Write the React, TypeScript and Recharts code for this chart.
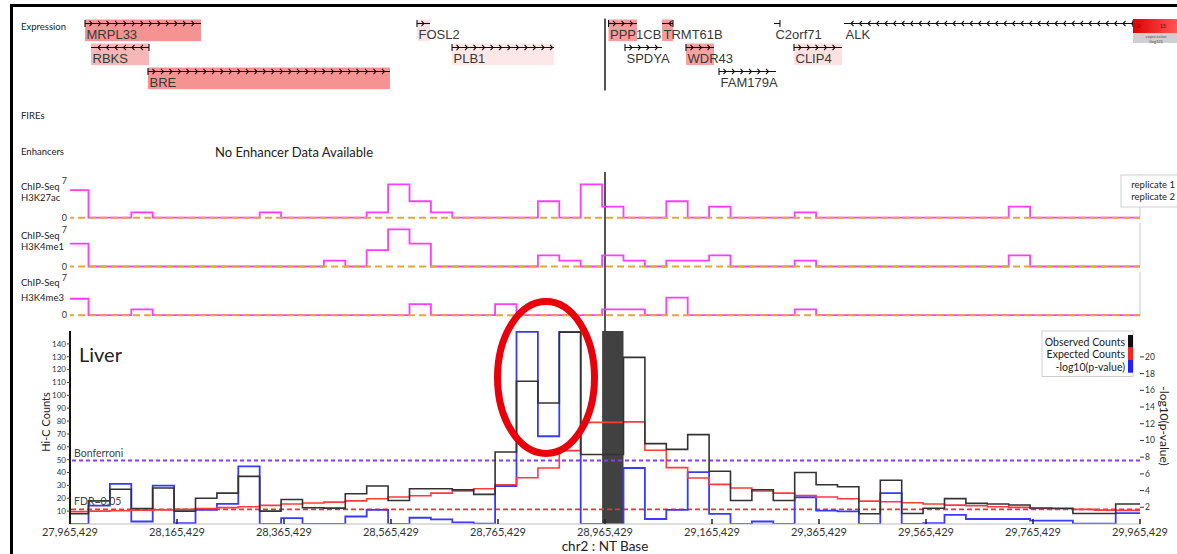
import React from "react";
import {
  ComposedChart,
  Line,
  Bar,
  XAxis,
  YAxis,
  ReferenceLine,
  ReferenceArea,
  Label,
} from "recharts";

const FONT = "Lato, 'DejaVu Sans', sans-serif";
const GENE_FONT = "'Liberation Sans', Arial, sans-serif";

// genomic window (chr2) and the anchor bin
const X_MIN = 27965429;
const X_MAX = 29965429;
const ANCHOR = 28965429;
const ANCHOR_BIN = [28960000, 29000000];
const BIN_FIRST = 27960000;
const BIN_SIZE = 40000;

const X_TICKS = [
  27965429, 28165429, 28365429, 28565429, 28765429, 28965429, 29165429, 29365429,
  29565429, 29765429, 29965429,
];
const COUNT_TICKS = [10, 20, 30, 40, 50, 60, 70, 80, 90, 100, 110, 120, 130, 140];
const P_TICKS = [2, 4, 6, 8, 10, 12, 14, 16, 18, 20];
const CHIP_TICKS = [0, 7];

// Hi-C, one value per 40kb bin
const OBSERVED = [
  8, 18, 27, 12, 28, 10, 20, 24, 37, 10,
  19, 12.6, 12.3, 23.5, 29.5, 18.3, 27.4, 27.4, 26.5, 23,
  56, 111, 94, 149, 54, 54, 129.5, 62.5, 58, 69.5,
  41, 18.3, 26.6, 18.3, 40, 30.5, 29, 8, 34, 8.2,
  12.2, 19.7, 16, 15.5, 14.8, 12.4, 12.2, 8.2, 8.2, 15.5,
  15.5,
];
const EXPECTED = [
  9.6, 10, 10.3, 10.8, 11, 11.4, 12, 12.7, 13.4, 14.5,
  15.5, 16.3, 17, 18, 19.6, 21, 22, 24, 25.6, 27.4,
  30.5, 36, 43.5, 57, 79, 79, 79.4, 57.3, 43.8, 35.7,
  30.8, 28, 25.6, 24, 22.2, 21, 19.6, 17.8, 17.3, 16.5,
  15.5, 14.7, 14.2, 13.4, 12.9, 12.1, 11.9, 11.4, 10.8, 10.6,
  10.6,
];
const NEG_LOG_P = [
  0, 2.2, 4.8, 0.3, 4.6, 0.1, 1.7, 2.4, 6.9, 0,
  0.7, 0, 0, 0.9, 1.7, 0, 0.75, 0.55, 0.2, 0.05,
  4.55, 23, 10.5, 23, 0, 0, 6.7, 0.6, 1.7, 6.2,
  1.2, 0, 0.3, 0, 3.2, 1.6, 1.5, 0, 3.7, 0,
  0.1, 1.1, 0.6, 0.6, 0.6, 0.4, 0.4, 0.05, 0.05, 1.3,
  1.3,
];
const BONFERRONI = 7.6;
const FDR_05 = 1.75;

// ChIP-Seq, replicate 1 per bin
const H3K27AC = [
  5.2, 0, 0, 1, 0, 0, 0, 0, 0, 1,
  0, 0, 0, 0, 1, 6.3, 3.1, 1, 0, 0,
  0, 0, 3.1, 0, 6.3, 2.1, 0, 0, 3.1, 0,
  2.1, 0, 0, 0, 1, 0, 0, 0, 0, 0,
  0, 0, 0, 0, 2.1, 0, 0, 0, 0, 0,
  0,
];
const H3K4ME1 = [
  4.3, 0, 0, 0, 0, 0, 0, 0, 0, 0,
  0, 0, 1.1, 0, 3.1, 7, 4.3, 0, 0, 0,
  0, 0, 2.1, 1.1, 0, 2.1, 1.1, 0, 1.1, 1.1,
  2.1, 0, 0, 0, 1.1, 0, 0, 0, 0, 0,
  0, 0, 0, 0, 2.1, 0, 0, 0, 0, 0,
  0,
];
const H3K4ME3 = [
  3.1, 0, 0, 1.1, 0, 0, 0, 0, 0, 0,
  0, 0, 0, 0, 0, 0, 2.1, 0, 0, 0,
  2.1, 0, 0, 0, 0, 1.1, 1.1, 0, 3.3, 0,
  0, 0, 0, 0, 1.1, 0, 0, 0, 0, 0,
  0, 0, 0, 0, 0, 0, 0, 0, 0, 0,
  0,
];
const REPLICATE_2 = [
  0, 0, 0, 0, 0, 0, 0, 0, 0, 0,
  0, 0, 0, 0, 0, 0, 0, 0, 0, 0,
  0, 0, 0, 0, 0, 0, 0, 0, 0, 0,
  0, 0, 0, 0, 0, 0, 0, 0, 0, 0,
  0, 0, 0, 0, 0, 0, 0, 0, 0, 0,
  0,
];

// genes
const GENE_NAMES = ["MRPL33", "RBKS", "BRE", "FOSL2", "PLB1", "PPP1CB", "SPDYA", "TRMT61B", "WDR43", "FAM179A", "C2orf71", "CLIP4", "ALK"];
const GENE_START = [27993500, 28004700, 28111200, 28614000, 28679500, 28972000, 29002800, 29072000, 29116800, 29178500, 29281300, 29318700, 29412200];
const GENE_END = [28210300, 28113100, 28563600, 28638300, 28870100, 29025200, 29072000, 29092500, 29169200, 29285000, 29292500, 29408400, 29952400];
const GENE_STRAND = [1, -1, 1, 1, 1, 1, 1, -1, 1, 1, -1, 1, -1];
const GENE_ROW = [1, 2, 3, 1, 2, 1, 2, 1, 2, 3, 1, 2, 1];
const GENE_EXPR = [0.72, 0.48, 0.72, 0.18, 0.16, 0.66, 0, 0.66, 0.62, 0, 0, 0.2, 0];

const binRows = OBSERVED.map((_, k) => ({
  pos: BIN_FIRST + k * BIN_SIZE,
  obs: OBSERVED[k],
  exp: EXPECTED[k],
  p: NEG_LOG_P[k],
  k27ac: H3K27AC[k],
  k4me1: H3K4ME1[k],
  k4me3: H3K4ME3[k],
  rep2: REPLICATE_2[k],
}));
binRows.push({ ...binRows[binRows.length - 1], pos: BIN_FIRST + OBSERVED.length * BIN_SIZE });

const geneRows = GENE_NAMES.map((name, i) => ({
  name,
  row: GENE_ROW[i],
  span: [GENE_START[i], GENE_END[i]],
  strand: GENE_STRAND[i],
  expr: GENE_EXPR[i],
}));

function exprColor(e: number) {
  const g = Math.round(255 - 150 * e);
  const r = Math.round(255 - 14 * e);
  return `rgb(${r},${g},${g})`;
}

function GeneShape(props: any) {
  const { x, y, width, height } = props;
  const d = props.payload ?? props;
  if (x == null || !isFinite(width)) return null;
  const ly = y + 4;
  const chevrons = [];
  for (let cx = x + 7; cx < x + width - 1; cx += 8.5) {
    const s = d.strand;
    chevrons.push(
      <path
        key={cx}
        d={`M${cx - 2.5 * s},${ly - 2.6} L${cx},${ly} L${cx - 2.5 * s},${ly + 2.6}`}
        stroke="#111"
        strokeWidth={1.1}
        fill="none"
      />
    );
  }
  const tss = d.strand > 0 ? x : x + width;
  return (
    <g>
      {d.expr > 0 && <rect x={x} y={y} width={width} height={height} fill={exprColor(d.expr)} />}
      <line x1={x} x2={x + width} y1={ly} y2={ly} stroke="#111" strokeWidth={1.1} />
      {chevrons}
      <line x1={tss} x2={tss} y1={ly - 3.5} y2={ly + 3.5} stroke="#111" strokeWidth={1.1} />
      <text x={x + 1.5} y={y + 19} fontSize={13} fontFamily={GENE_FONT} fill="#383838">
        {d.name}
      </text>
    </g>
  );
}

function XTick(props: any) {
  const { x, y, payload } = props;
  return (
    <g>
      <line x1={x} x2={x} y1={y} y2={y - 5} stroke="#222" strokeWidth={1.5} />
      <text x={x} y={y + 12} textAnchor="middle" fontSize={11} fontFamily={FONT} fill="#333">
        {Number(payload.value).toLocaleString("en-US")}
      </text>
    </g>
  );
}

const CHIP_PX = 5.3; // px per ChIP unit

function ChipTrack({ dataKey, top, height, base }: { dataKey: string; top: number; height: number; base: number }) {
  const up = base / CHIP_PX;
  const down = (height - base) / CHIP_PX;
  return (
    <div style={{ position: "absolute", left: 0, top }}>
      <ComposedChart width={1177} height={height} data={binRows} margin={{ top: 0, right: 37, bottom: 0, left: 58 }}>
        <XAxis type="number" dataKey="pos" domain={[X_MIN, X_MAX]} allowDataOverflow hide />
        <YAxis
          domain={[-down, up]}
          allowDataOverflow
          ticks={CHIP_TICKS}
          interval={0}
          width={12}
          axisLine={false}
          tickLine={false}
          tickSize={0}
          tickMargin={3}
          tick={{ fontSize: 9, fill: "#333", fontFamily: FONT }}
        />
        <ReferenceLine segment={[{ x: X_MAX, y: 0 }, { x: X_MAX, y: 8.2 }]} stroke="#cfcfcf" strokeWidth={1.2} />
        <ReferenceLine x={ANCHOR} stroke="#555" strokeWidth={2} />
        <Line type="stepAfter" dataKey={dataKey} stroke="#ff3cff" strokeWidth={1.8} dot={false} isAnimationActive={false} />
        <Line type="stepAfter" dataKey="rep2" stroke="#e3a53f" strokeWidth={2} strokeDasharray="7 4" dot={false} isAnimationActive={false} />
      </ComposedChart>
    </div>
  );
}

const txt = { fontFamily: FONT, fill: "#222" } as const;

export default function App() {
  return (
    <div style={{ position: "absolute", left: 0, top: 0, width: 1177, height: 554, overflow: "hidden", background: "#fff" }}>
      <div style={{ position: "absolute", left: 10, top: 4, width: 1180, height: 560, borderTop: "3px solid #000", borderLeft: "3px solid #000" }} />

      {/* expression / genes */}
      <div style={{ position: "absolute", left: 0, top: 0 }}>
        <ComposedChart width={1177} height={100} data={geneRows} layout="vertical" margin={{ top: 18.5, right: 37, bottom: 9.5, left: 70 }}>
          <XAxis type="number" domain={[X_MIN, X_MAX]} allowDataOverflow hide />
          <YAxis type="number" dataKey="row" domain={[0.5, 3.5]} hide />
          <ReferenceLine x={ANCHOR} stroke="#555" strokeWidth={2} />
          <Bar dataKey="span" barSize={24} shape={GeneShape} isAnimationActive={false} />
        </ComposedChart>
      </div>

      {/* FIREs / enhancers */}
      <div style={{ position: "absolute", left: 0, top: 96 }}>
        <ComposedChart width={1177} height={76} data={binRows} margin={{ top: 4, right: 37, bottom: 0, left: 70 }}>
          <XAxis type="number" dataKey="pos" domain={[X_MIN, X_MAX]} allowDataOverflow hide />
          <YAxis hide domain={[0, 1]} />
          <ReferenceLine x={ANCHOR} stroke="#555" strokeWidth={2} strokeDasharray="14 9" />
        </ComposedChart>
      </div>

      <ChipTrack dataKey="k27ac" top={172} height={50} base={45.7} />
      <ChipTrack dataKey="k4me1" top={222} height={49} base={44.5} />
      <ChipTrack dataKey="k4me3" top={271} height={60} base={44.2} />

      {/* Hi-C */}
      <div style={{ position: "absolute", left: 0, top: 325 }}>
        <ComposedChart width={1177} height={229} data={binRows} margin={{ top: 6, right: 7, bottom: 0, left: 40 }}>
          <XAxis
            type="number"
            dataKey="pos"
            domain={[X_MIN, X_MAX]}
            allowDataOverflow
            ticks={X_TICKS}
            interval={0}
            height={30}
            tickSize={0}
            tickMargin={0}
            tickLine={false}
            axisLine={{ stroke: "#bbb" }}
            tick={(p: any) => <XTick {...p} />}
          />
          <YAxis
            yAxisId="c"
            domain={[0, 150]}
            allowDataOverflow
            ticks={COUNT_TICKS}
            interval={0}
            width={30}
            tickSize={3}
            tickMargin={1}
            axisLine={{ stroke: "#111", strokeWidth: 2 }}
            tickLine={{ stroke: "#444" }}
            tick={{ fontSize: 8, fill: "#333", fontFamily: FONT }}
          />
          <YAxis
            yAxisId="p"
            orientation="right"
            domain={[0, 23.1]}
            allowDataOverflow
            ticks={P_TICKS}
            interval={0}
            width={30}
            tickSize={4}
            tickMargin={1}
            axisLine={false}
            tickLine={{ stroke: "#333" }}
            tick={{ fontSize: 8.5, fill: "#333", fontFamily: FONT }}
          />
          <ReferenceLine yAxisId="p" y={BONFERRONI} stroke="#8a3cf0" strokeWidth={2} strokeDasharray="4 3">
            <Label value="Bonferroni" position="insideBottomLeft" offset={4} fontSize={10.5} fill="#444" fontFamily={FONT} />
          </ReferenceLine>
          <ReferenceLine yAxisId="p" y={FDR_05} stroke="#ff2a2a" strokeWidth={1.6} strokeDasharray="5 3">
            <Label value="FDR=0.05" position="insideBottomLeft" offset={4} fontSize={10.5} fill="#444" fontFamily={FONT} />
          </ReferenceLine>
          <Line yAxisId="p" type="stepAfter" dataKey="p" stroke="#3a3aff" strokeWidth={1.8} dot={false} isAnimationActive={false} />
          <Line yAxisId="c" type="stepAfter" dataKey="exp" stroke="#ff3b3b" strokeWidth={1.6} dot={false} isAnimationActive={false} />
          <Line yAxisId="c" type="stepAfter" dataKey="obs" stroke="#333" strokeWidth={1.6} dot={false} isAnimationActive={false} />
          <ReferenceArea yAxisId="c" x1={ANCHOR_BIN[0]} x2={ANCHOR_BIN[1]} fill="#2c2c2c" fillOpacity={0.9} stroke="none" />
        </ComposedChart>
      </div>

      {/* labels and annotations */}
      <svg width={1177} height={554} style={{ position: "absolute", left: 0, top: 0, pointerEvents: "none" }}>
        <defs>
          <linearGradient id="exprGrad" x1="0" x2="1" y1="0" y2="0">
            <stop offset="0" stopColor="#e00000" />
            <stop offset="1" stopColor="#ff5a5a" />
          </linearGradient>
        </defs>
        <text x={21} y={30} fontSize={9.5} {...txt}>Expression</text>
        <text x={21} y={118.5} fontSize={9.5} {...txt}>FIREs</text>
        <text x={21} y={155} fontSize={9.5} {...txt}>Enhancers</text>
        <text x={215} y={156.5} fontSize={13} {...txt}>No Enhancer Data Available</text>

        <rect x={1133} y={19} width={46} height={14} fill="url(#exprGrad)" />
        <text x={1137} y={28} fontSize={5} fill="#600" fontFamily={FONT}>0</text>
        <text x={1160} y={28} fontSize={5} fill="#600" fontFamily={FONT}>15</text>
        <rect x={1133} y={33} width={46} height={10} fill="#cfcfcf" />
        <text x={1156} y={38} fontSize={4.5} textAnchor="middle" fill="#555" fontFamily={FONT}>expression</text>
        <text x={1156} y={42.5} fontSize={4.5} textAnchor="middle" fill="#555" fontFamily={FONT}>(log10)</text>

        <text x={21} y={190} fontSize={9.5} {...txt}>ChIP-Seq</text>
        <text x={21} y={200.5} fontSize={9.5} {...txt}>H3K27ac</text>
        <text x={21} y={238.5} fontSize={9.5} {...txt}>ChIP-Seq</text>
        <text x={21} y={249.5} fontSize={9.5} {...txt}>H3K4me1</text>
        <text x={21} y={286} fontSize={9.5} {...txt}>ChIP-Seq</text>
        <text x={21} y={300.5} fontSize={9.5} {...txt}>H3K4me3</text>

        <rect x={1121} y={175} width={60} height={32} fill="#fff" stroke="#cfcfcf" />
        <text x={1175} y={188} fontSize={9.5} textAnchor="end" {...txt}>replicate 1</text>
        <text x={1175} y={200} fontSize={9.5} textAnchor="end" {...txt}>replicate 2</text>

        <text x={79} y={362} fontSize={20} {...txt}>Liver</text>
        <text x={0} y={0} fontSize={11} textAnchor="middle" transform="translate(50,422) rotate(-90)" {...txt}>Hi-C Counts</text>
        <text x={0} y={0} fontSize={12} textAnchor="middle" transform="translate(1160,426) rotate(90)" {...txt}>-log10(p-value)</text>
        <text x={605} y={551} fontSize={13.5} textAnchor="middle" {...txt}>chr2 : NT Base</text>

        <rect x={1042} y={331} width={91} height={45.5} fill="#fff" stroke="#cfcfcf" />
        <text x={1125} y={345.5} fontSize={10.5} textAnchor="end" {...txt}>Observed Counts</text>
        <text x={1125} y={358} fontSize={10.5} textAnchor="end" {...txt}>Expected Counts</text>
        <text x={1125} y={370.5} fontSize={10.5} textAnchor="end" {...txt}>-log10(p-value)</text>
        <rect x={1128} y={335} width={5} height={12.7} fill="#111" />
        <rect x={1128} y={347.7} width={5} height={12.3} fill="#ff2020" />
        <rect x={1128} y={360} width={5} height={12.7} fill="#2020ff" />

        <ellipse cx={546} cy={377.5} rx={48.5} ry={76} fill="none" stroke="#e8000b" strokeWidth={7} />
      </svg>
    </div>
  );
}
